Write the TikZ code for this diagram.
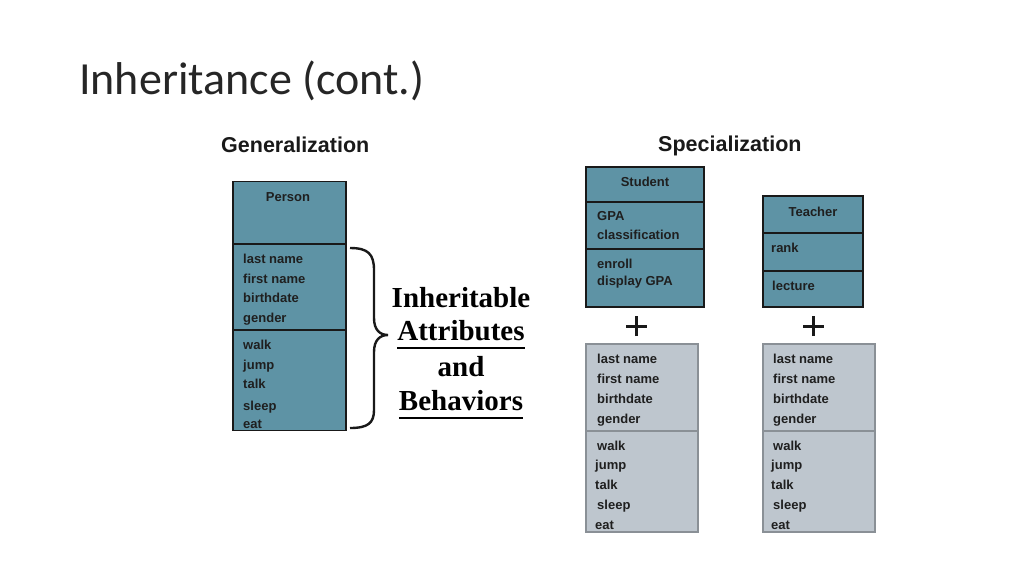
\documentclass[tikz,border=0pt]{standalone}
\usepackage{fontspec}
\setmainfont{Liberation Sans}
\newfontfamily\titlefont{Carlito}
\newfontfamily\seriffont{Liberation Serif}
\definecolor{teal1}{HTML}{5E93A5}
\definecolor{gray1}{HTML}{BEC6CE}
\definecolor{gline}{HTML}{8A9096}
\begin{document}
\begin{tikzpicture}[x=1pt,y=-1pt,
  tealbox/.style={draw=black!90,line width=1.3pt,fill=teal1,inner sep=0pt},
  graybox/.style={draw=gline,line width=1.2pt,fill=gray1,inner sep=0pt},
  item/.style={anchor=base west,inner sep=0pt,font=\fontsize{13}{15}\selectfont\bfseries,text=black!88},
  cls/.style={anchor=base,inner sep=0pt,font=\fontsize{13}{15}\selectfont\bfseries,text=black!88},
  head/.style={anchor=base west,inner sep=0pt,font=\fontsize{21.5}{24}\selectfont\bfseries,text=black!90},
  big/.style={anchor=base,inner sep=0pt,font=\fontsize{29}{32}\seriffont\bfseries},
  plus/.style={line width=3pt,black!90}]
\useasboundingbox[fill=white] (0,0) rectangle (1024,576);

% title
\node[anchor=base west,inner sep=0pt,font=\fontsize{46}{50}\titlefont,text=black!85] (title) at (79,94) {Inheritance (cont.)};

% headers
\node[head] (gen) at (221,152) {Generalization};
\node[head] (spec) at (658,151) {Specialization};

% Person box
\node[tealbox,minimum width=113pt,minimum height=249pt] (person) at (289.5,306) {};
\draw[black!90,line width=1.3pt] (person.west |- 0,244) -- (person.east |- 0,244);
\draw[black!90,line width=1.3pt] (person.west |- 0,330) -- (person.east |- 0,330);
\node[cls] (pname) at (288,201) {Person};
\node[item] (p1) at (243,263) {last name};
\node[item] (p2) at (243,283) {first name};
\node[item] (p3) at (243,302) {birthdate};
\node[item] (p4) at (243,322) {gender};
\node[item] (p5) at (243,349) {walk};
\node[item] (p6) at (243,369) {jump};
\node[item] (p7) at (243,388) {talk};
\node[item] (p8) at (243,410) {sleep};
\node[item] (p9) at (243,428) {eat};

% brace
\draw[line width=2.4pt,black!90] (350,248) .. controls (368,248) and (374,254) .. (374,270) -- (374,318) .. controls (374,330) and (380,335) .. (388,335) .. controls (380,335) and (374,340) .. (374,352) -- (374,410) .. controls (374,423) and (368,428) .. (350,428);

% big text
\node[big] (b1) at (461,307) {Inheritable};
\node[big] (b2) at (461,340) {Attributes};
\node[big] (b3) at (461,376) {and};
\node[big] (b4) at (461,410) {Behaviors};
\draw[line width=2pt] (b2.base west) ++(0,8) -- ([yshift=-8pt]b2.base east);
\draw[line width=2pt] (b4.base west) ++(0,8) -- ([yshift=-8pt]b4.base east);

% Student box
\node[tealbox,minimum width=118pt,minimum height=140pt] (student) at (645,237) {};
\draw[black!90,line width=1.3pt] (student.west |- 0,202) -- (student.east |- 0,202);
\draw[black!90,line width=1.3pt] (student.west |- 0,249) -- (student.east |- 0,249);
\node[cls] (sname) at (645,186) {Student};
\node[item] (s1) at (597,220) {GPA};
\node[item] (s2) at (597,239) {classification};
\node[item] (s3) at (597,268) {enroll};
\node[item] (s4) at (597,285) {display GPA};

% Teacher box
\node[tealbox,minimum width=100pt,minimum height=111pt] (teacher) at (813,251.5) {};
\draw[black!90,line width=1.3pt] (teacher.west |- 0,233) -- (teacher.east |- 0,233);
\draw[black!90,line width=1.3pt] (teacher.west |- 0,271) -- (teacher.east |- 0,271);
\node[cls] (tname) at (813,216) {Teacher};
\node[item] (t1) at (771,252) {rank};
\node[item] (t2) at (772,290) {lecture};

% plus signs
\coordinate (plusA) at (636.5,326);
\coordinate (plusB) at (813.5,326);
\draw[plus] ([xshift=-10.5pt]plusA) -- ([xshift=10.5pt]plusA);
\draw[plus] ([yshift=-10pt]plusA) -- ([yshift=10pt]plusA);
\draw[plus] ([xshift=-10.5pt]plusB) -- ([xshift=10.5pt]plusB);
\draw[plus] ([yshift=-10pt]plusB) -- ([yshift=10pt]plusB);

% gray box 1
\node[graybox,minimum width=112pt,minimum height=188pt] (g1) at (642,438) {};
\draw[gline,line width=1.2pt] (g1.west |- 0,431) -- (g1.east |- 0,431);
\node[item] (g1a) at (597,363) {last name};
\node[item] (g1b) at (597,383) {first name};
\node[item] (g1c) at (597,403) {birthdate};
\node[item] (g1d) at (597,423) {gender};
\node[item] (g1e) at (597,450) {walk};
\node[item] (g1f) at (595,469) {jump};
\node[item] (g1g) at (595,489) {talk};
\node[item] (g1h) at (597,509) {sleep};
\node[item] (g1i) at (595,529) {eat};

% gray box 2
\node[graybox,minimum width=112pt,minimum height=188pt] (g2) at (819,438) {};
\draw[gline,line width=1.2pt] (g2.west |- 0,431) -- (g2.east |- 0,431);
\node[item] (g2a) at (773,363) {last name};
\node[item] (g2b) at (773,383) {first name};
\node[item] (g2c) at (773,403) {birthdate};
\node[item] (g2d) at (773,423) {gender};
\node[item] (g2e) at (773,450) {walk};
\node[item] (g2f) at (771,469) {jump};
\node[item] (g2g) at (771,489) {talk};
\node[item] (g2h) at (773,509) {sleep};
\node[item] (g2i) at (771,529) {eat};
\end{tikzpicture}
\end{document}
